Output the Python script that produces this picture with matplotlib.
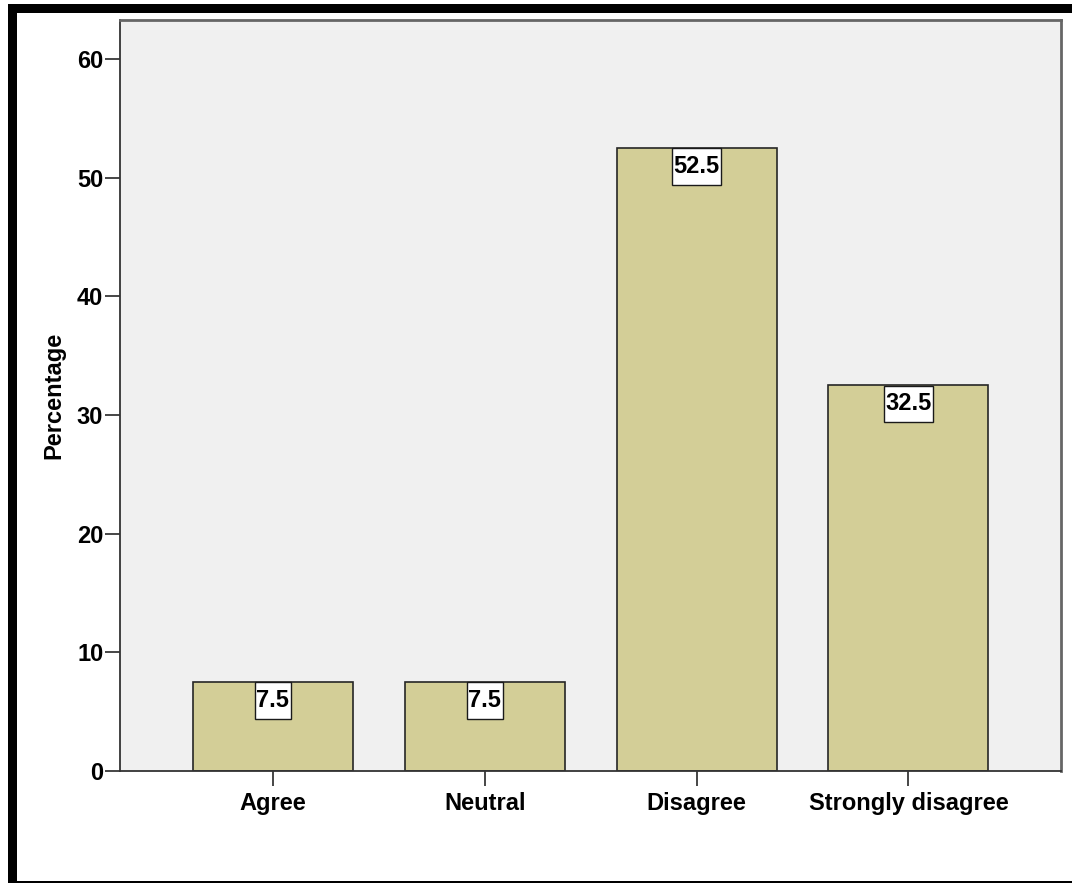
import matplotlib
matplotlib.use('Agg')
import matplotlib.pyplot as plt
from matplotlib.patches import Rectangle
from matplotlib.path import Path

# response categories and their share of respondents (%)
categories = ['Agree', 'Neutral', 'Disagree', 'Strongly disagree']
percentages = [7.5, 7.5, 52.5, 32.5]
y_ticks = [0, 10, 20, 30, 40, 50, 60]

plt.rcParams['font.family'] = ['Liberation Sans Narrow', 'Liberation Sans', 'DejaVu Sans']
plt.rcParams['font.weight'] = 'bold'


def label_box(x0, y0, width, height, mutation_size):
    # narrow sides, taller top/bottom margin
    px = 0.06 * mutation_size
    py = 0.28 * mutation_size
    x0, x1 = x0 - px, x0 + width + px
    y0, y1 = y0 - py, y0 + height + py
    return Path([(x0, y0), (x1, y0), (x1, y1), (x0, y1), (x0, y0)], closed=True)


fig = plt.figure(figsize=(10.72, 8.83), dpi=100)
ax = fig.add_axes([0.1119, 0.1268, 0.8778, 0.8506])

x = list(range(len(categories)))
bars = ax.bar(x, percentages, width=0.755, color='#d3ce97', edgecolor='#262626',
              linewidth=1.2, zorder=2)

# value boxes hanging from the top of each bar
for xi, v in zip(x, percentages):
    ax.annotate(f'{v:.1f}', xy=(xi, v), xytext=(0, -5.0), textcoords='offset points',
                ha='center', va='top', fontsize=17, fontweight='bold', zorder=3,
                bbox=dict(boxstyle=label_box, facecolor='white',
                          edgecolor='#1a1a1a', linewidth=1.0))

ax.set_facecolor('#f0f0f0')
ax.set_xlim(-0.722, 3.72)
ax.set_ylim(0, 63.3)
ax.set_xticks(x)
ax.set_xticklabels(categories)
ax.set_yticks(y_ticks)
ax.tick_params(axis='both', labelsize=17, length=11, width=1.2, color='#262626')
ax.tick_params(axis='x', pad=4)
ax.tick_params(axis='y', pad=1)
for lbl in ax.get_xticklabels() + ax.get_yticklabels():
    lbl.set_fontweight('bold')
ax.set_ylabel('Percentage', fontsize=17, fontweight='bold', labelpad=8)

for side in ['left', 'bottom']:
    ax.spines[side].set_color('#333333')
    ax.spines[side].set_linewidth(1.3)
for side in ['top', 'right']:
    ax.spines[side].set_color('#666666')
    ax.spines[side].set_linewidth(2.0)

# black frame pieces around the figure
fig.patches.extend([
    Rectangle((8 / 1072, 0), 1 - 8 / 1072, 1.6 / 883, transform=fig.transFigure,
              facecolor='black', edgecolor='none'),
    Rectangle((8 / 1072, 1 - 13 / 883), 1 - 8 / 1072, 9 / 883, transform=fig.transFigure,
              facecolor='black', edgecolor='none'),
    Rectangle((8 / 1072, 0), 9 / 1072, 1 - 4 / 883, transform=fig.transFigure,
              facecolor='black', edgecolor='none'),
])

fig.savefig('out.png', dpi=100)
